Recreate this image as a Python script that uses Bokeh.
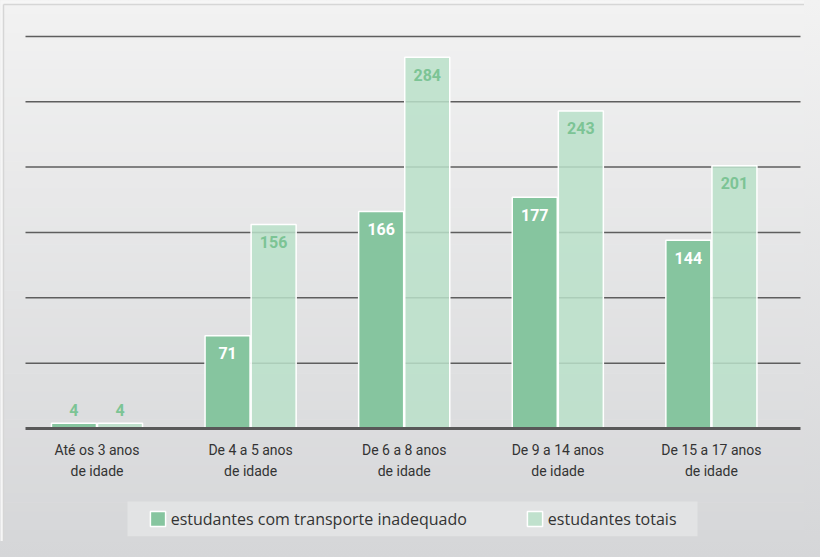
from bokeh.plotting import figure
from bokeh.models import ColumnDataSource, Legend, LegendItem
from bokeh.core.properties import value
from bokeh.embed import file_html
from bokeh.resources import INLINE

# ---- data ----
categories_line1 = ["Até os 3 anos", "De 4 a 5 anos", "De 6 a 8 anos", "De 9 a 14 anos", "De 15 a 17 anos"]
categories_line2 = ["de idade", "de idade", "de idade", "de idade", "de idade"]
inadequado = [4, 71, 166, 177, 144]
totais = [4, 156, 284, 243, 201]
grid_values = [50, 100, 150, 200, 250, 300]
series_names = ["estudantes com transporte inadequado", "estudantes totais"]

# ---- layout constants (reference pixel geometry) ----
W, H = 804, 541
PX0, PXS = 96.5, 153.6   # pixel x of group 0 centre, pixels per group
PY0, PYS = 428.0, 1.307  # pixel y of value 0, pixels per unit


def xd(px):
    return (px - PX0) / PXS


def yd(py):
    return (PY0 - py) / PYS


NUM_FONT = "Roboto"
CAT_FONT = "Roboto"
LEG_FONT = "Open Sans"
DARK = "#86c59f"
LIGHT = "#bae0c9"
LABEL_GREEN = "#7cc495"

p = figure(width=W, height=H, x_range=(xd(0), xd(W)), y_range=(yd(H), yd(0)),
           output_backend="svg", toolbar_location=None, min_border=0)
p.xaxis.visible = False
p.yaxis.visible = False
p.xgrid.visible = False
p.ygrid.visible = False
p.outline_line_color = None
p.background_fill_color = "#f6f6f6"
p.border_fill_color = "#f6f6f6"

# gradient background (decoration)
n = 60
top_c = (242, 242, 242)
bot_c = (213, 214, 216)
y_start, y_end = 4, 557
tops, bots, cols = [], [], []
for k in range(n):
    y0 = y_start + (y_end - y_start) * k / n
    y1 = y_start + (y_end - y_start) * (k + 1) / n
    t = (k + 0.5) / n
    c = tuple(int(round(top_c[j] + (bot_c[j] - top_c[j]) * t)) for j in range(3))
    tops.append(yd(y0))
    bots.append(yd(y1 + 0.6))
    cols.append("#%02x%02x%02x" % c)
p.quad(left=xd(3), right=xd(830), top=tops, bottom=bots, fill_color=cols, line_color=None)
# thin outer border
p.segment(x0=[xd(3), xd(3)], x1=[xd(830), xd(3)], y0=[yd(4), yd(4)], y1=[yd(4), yd(560)],
          line_color="#d6d6d6", line_width=1.5)

# legend background box
p.quad(left=[xd(127)], right=[xd(697)], top=[yd(501)], bottom=[yd(535.7)],
       fill_color="#e2e3e4", line_color=None)

# gridlines
p.segment(x0=xd(25), x1=xd(800), y0=grid_values, y1=grid_values,
          line_color="#5e5e5e", line_width=1.5)

# bars
xs = list(range(len(categories_line1)))
off = 0.15
bw = 0.293
src = ColumnDataSource(dict(
    xa=[x - off for x in xs], xb=[x + off for x in xs],
    a=inadequado, b=totais,
))
r1 = p.vbar(x="xa", top="a", bottom=0, width=bw, source=src,
            fill_color=DARK, line_color="white", line_width=1.5)
r2 = p.vbar(x="xb", top="b", bottom=0, width=bw, source=src,
            fill_color=LIGHT, fill_alpha=0.85, line_color="white", line_width=1.5)

# baseline
p.segment(x0=[xd(25)], x1=[xd(800)], y0=[0], y1=[0], line_color="#585858", line_width=3)

# value labels
lx, ly, lt, lc, lo = [], [], [], [], []
for i in xs:
    for xv, v, inside_col in ((i - off, inadequado[i], "white"), (i + off, totais[i], LABEL_GREEN)):
        lx.append(xv)
        ly.append(v)
        lt.append(str(v))
        if v * PYS > 30:
            lc.append(inside_col)
            lo.append(17.5)
        else:
            lc.append(LABEL_GREEN)
            lo.append(-13.5)
lsrc = ColumnDataSource(dict(x=lx, y=ly, t=lt, c=lc, o=lo))
p.text(x="x", y="y", text="t", text_color="c", y_offset="o", source=lsrc,
       text_font=value(NUM_FONT), text_font_style="bold", text_font_size="16px",
       text_align="center", text_baseline="middle")

# category labels
p.text(x=xs, y=[0] * len(xs), text=categories_line1, y_offset=21,
       text_font=value(CAT_FONT), text_font_size="14px", text_color="#333333",
       text_align="center", text_baseline="middle")
p.text(x=xs, y=[0] * len(xs), text=categories_line2, y_offset=42.7,
       text_font=value(CAT_FONT), text_font_size="14px", text_color="#333333",
       text_align="center", text_baseline="middle")

legend = Legend(items=[LegendItem(label=series_names[0], renderers=[r1]),
                       LegendItem(label=series_names[1], renderers=[r2])],
                orientation="horizontal", location=(147.7, 11.3), padding=8, margin=0,
                spacing=58, glyph_width=19, glyph_height=19, label_standoff=4, label_height=19,
                background_fill_alpha=0, border_line_color=None,
                label_text_font=LEG_FONT, label_text_font_size="16px", label_text_color="#333333")
p.add_layout(legend)

html = file_html(p, INLINE)
html = html.replace(
    "<head>",
    "<head><style>html{background:linear-gradient(to bottom,#f2f2f2 0px,#d5d6d8 557px) no-repeat #d5d6d8;}"
    "body{background:transparent;}</style>", 1)
open("out.html", "w").write(html)
